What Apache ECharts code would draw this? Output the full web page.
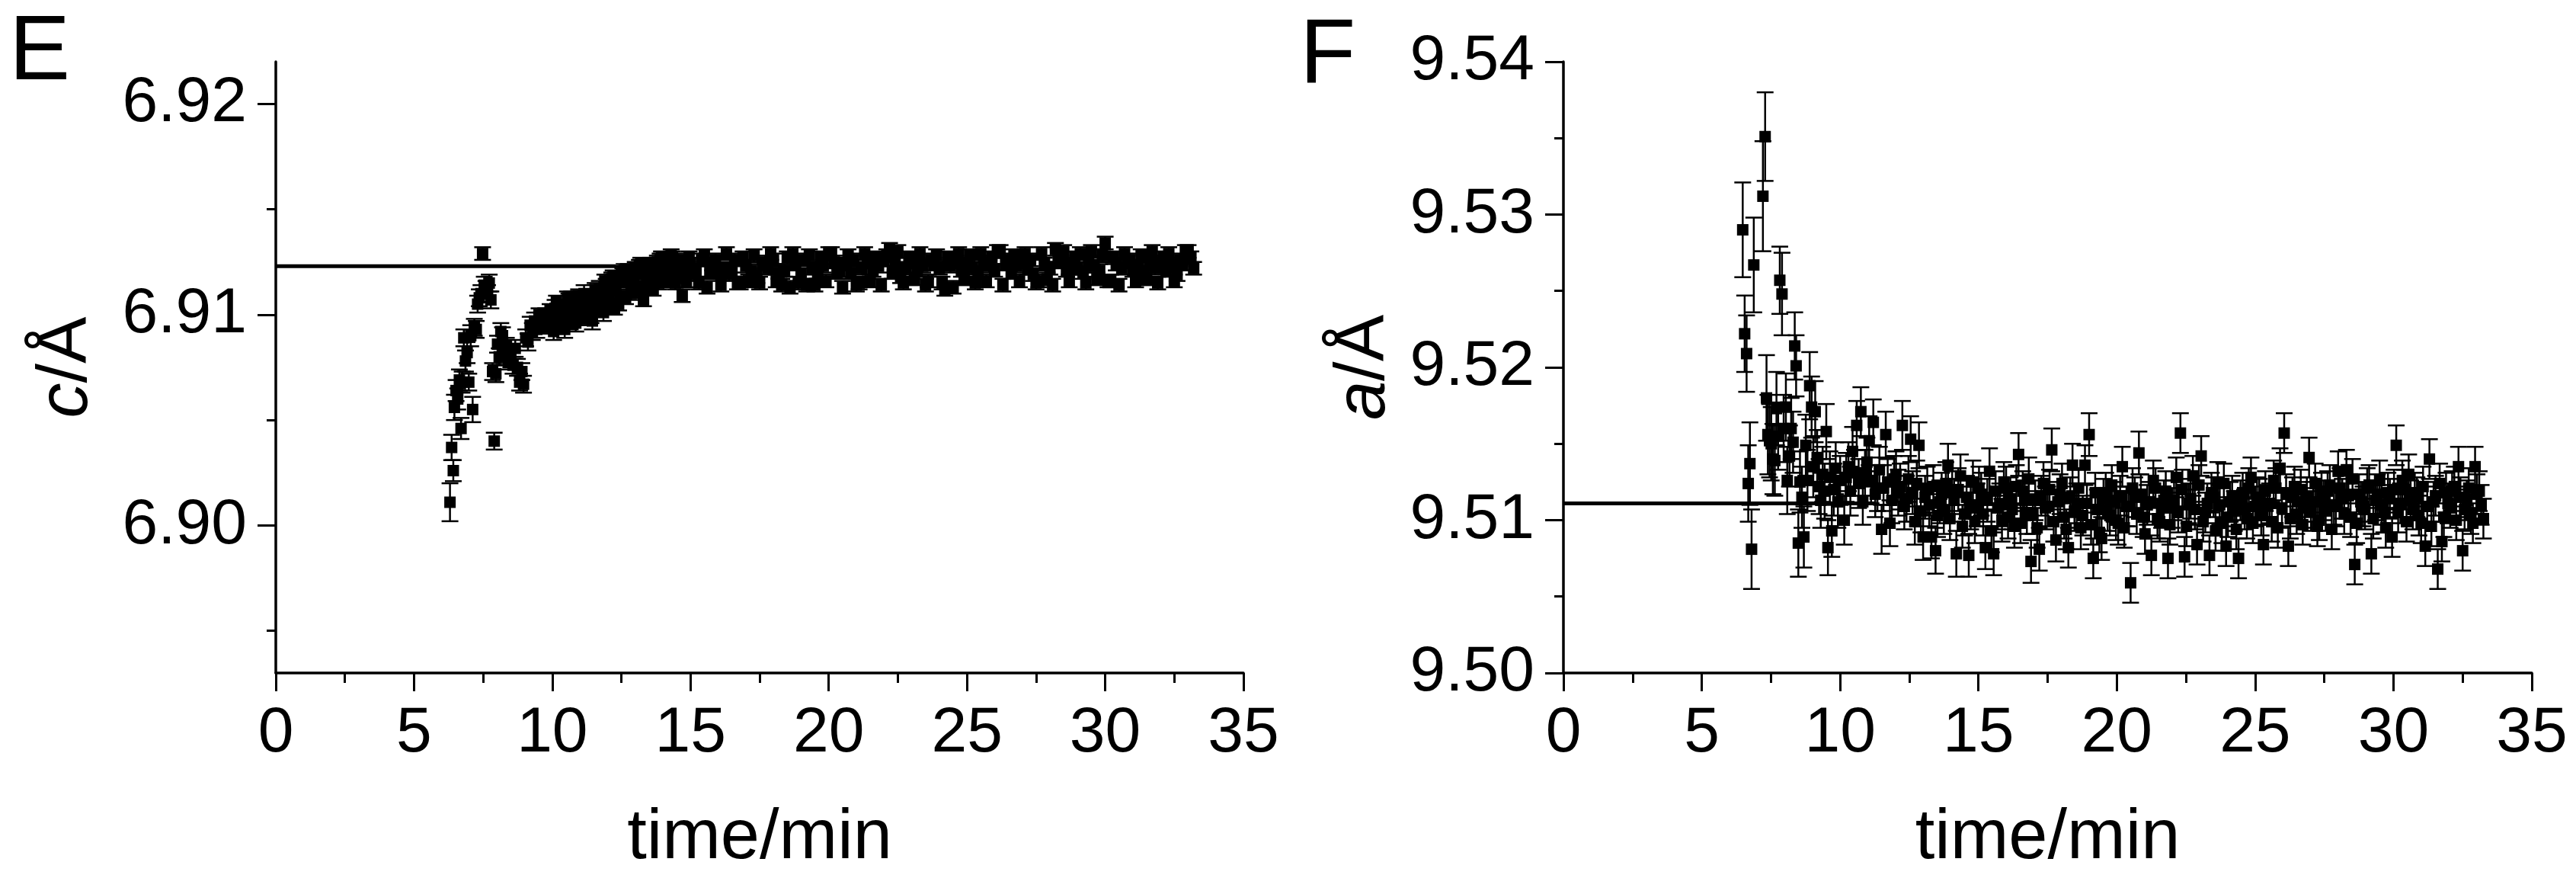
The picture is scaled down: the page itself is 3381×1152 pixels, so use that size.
<!DOCTYPE html>
<html>
<head>
<meta charset="utf-8">
<script src="https://cdn.jsdelivr.net/npm/echarts@6/dist/echarts.min.js"></script>
<style>
  html, body { margin: 0; padding: 0; background: #fff; }
  #main { width: 3381px; height: 1152px; }
</style>
</head>
<body>
<div id="main"></div>
<script>
// panel E : lattice parameter c vs time
const timeE = [6.30,6.36,6.42,6.46,6.52,6.58,6.64,6.70,6.74,6.80,
  6.86,6.92,6.98,7.05,7.12,7.18,7.25,7.30,7.36,7.42,
  7.48,7.54,7.60,7.66,7.72,7.78,7.84,7.90,7.96,8.02,
  8.08,8.14,8.20,8.26,8.34,8.42,8.50,8.58,8.66,8.74,
  8.82,8.90,8.96,9.04,9.12,9.20,9.28,9.36,9.44,9.52,
  9.60,9.68,9.76,9.84,9.92,10.00,
  10.1,10.2,10.3,10.4,10.5,10.6,10.7,10.8,10.9,11.0,
  11.1,11.2,11.3,11.4,11.5,11.6,11.7,11.8,11.9,12.0,
  12.1,12.2,12.3,12.4,12.5,12.6,12.7,12.8,12.9,13.0,
  13.1,13.2,13.3,13.4,13.5,13.6,13.7,13.8,13.9,14.0,
  14.1,14.2,14.3,14.4,14.5,14.6,14.7,14.8,14.9,15.0,
  15.2,15.4,15.6,15.8,16.0,16.2,16.4,16.6,16.8,17.0,
  17.2,17.4,17.6,17.8,18.0,18.2,18.4,18.6,18.8,19.0,
  19.2,19.4,19.6,19.8,20.0,20.2,20.4,20.6,20.8,21.0,
  21.2,21.4,21.6,21.8,22.0,22.2,22.4,22.6,22.8,23.0,
  23.2,23.4,23.6,23.8,24.0,24.2,24.4,24.6,24.8,25.0,
  25.2,25.4,25.6,25.8,26.0,26.2,26.4,26.6,26.8,27.0,
  27.2,27.4,27.6,27.8,28.0,28.2,28.4,28.6,28.8,29.0,
  29.2,29.4,29.6,29.8,30.0,30.2,30.4,30.6,30.8,31.0,
  31.2,31.4,31.6,31.8,32.0,32.2,32.4,32.6,32.8,33.0,
  33.2,
  10.05,10.15,10.25,10.35,10.45,10.55,10.65,10.75,10.85,10.95,
  11.05,11.15,11.25,11.35,11.45,11.55,11.65,11.75,11.85,11.95,
  12.05,12.15,12.25,12.35,12.45,12.55,12.65,12.75,12.85,12.95,
  13.05,13.15,13.25,13.35,13.45,13.55,13.65,13.75,13.85,13.95,
  14.05,14.15,14.25,14.35,14.45,14.55,14.65,14.75,14.85,14.95,
  15.3,15.5,15.7,15.9,16.1,16.3,16.5,16.7,16.9,17.1,
  17.3,17.5,17.7,17.9,18.1,18.3,18.5,18.7,18.9,19.1,
  19.3,19.5,19.7,19.9,20.1,20.3,20.5,20.7,20.9,21.1,
  21.3,21.5,21.7,21.9,22.1,22.3,22.5,22.7,22.9,23.1,
  23.3,23.5,23.7,23.9,24.1,24.3,24.5,24.7,24.9,25.1,
  25.3,25.5,25.7,25.9,26.1,26.3,26.5,26.7,26.9,27.1,
  27.3,27.5,27.7,27.9,28.1,28.3,28.5,28.7,28.9,29.1,
  29.3,29.5,29.7,29.9,30.1,30.3,30.5,30.7,30.9,31.1,
  31.3,31.5,31.7,31.9,32.1,32.3,32.5,32.7,32.9,33.1];
const cE = [6.9011,6.9037,6.9026,6.9056,6.9064,6.9060,6.9069,6.9046,6.9068,6.9089,
  6.9078,6.9082,6.9068,6.9090,6.9055,6.9094,6.9093,6.9105,6.9108,6.9110,
  6.9129,6.9114,6.9112,6.9110,6.9115,6.9107,6.9073,6.9040,6.9072,6.9086,
  6.9080,6.9092,6.9090,6.9081,6.9085,6.9078,6.9079,6.9076,6.9084,6.9075,
  6.9068,6.9073,6.9067,6.9089,6.9087,6.9095,6.9092,6.9097,6.9093,6.9100,
  6.9098,6.9094,6.9100,6.9097,6.9102,6.9099,
  6.9103,6.9101,6.9098,6.9104,6.9102,6.9106,6.9108,6.9101,6.9104,6.9105,
  6.9107,6.9103,6.9100,6.9099,6.9104,6.9109,6.9112,6.9108,6.9116,6.9111,
  6.9114,6.9118,6.9112,6.9105,6.9120,6.9121,6.9116,6.9119,6.9117,6.9122,
  6.9120,6.9124,6.9107,6.9119,6.9122,6.9120,6.9118,6.9125,6.9126,6.9121,
  6.9123,6.9126,6.9128,6.9124,6.9120,6.9125,6.9109,6.9122,6.9119,6.9124,
  6.9121,6.9126,6.9113,6.9124,6.9120,6.9122,6.9119,6.9126,6.9115,6.9123,
  6.9121,6.9118,6.9124,6.9122,6.9126,6.9120,6.9121,6.9113,6.9124,6.9119,
  6.9114,6.9122,6.9120,6.9123,6.9129,6.9125,6.9121,6.9124,6.9120,6.9114,
  6.9122,6.9125,6.9121,6.9123,6.9126,6.9131,6.9124,6.9118,6.9122,6.9125,
  6.9121,6.9123,6.9116,6.9124,6.9122,6.9112,6.9123,6.9125,6.9121,6.9124,
  6.9122,6.9120,6.9125,6.9123,6.9121,6.9130,6.9124,6.9120,6.9123,6.9125,
  6.9122,6.9119,6.9116,6.9124,6.9122,6.9131,6.9125,6.9121,6.9124,6.9122,
  6.9120,6.9125,6.9123,6.9121,6.9134,6.9116,6.9124,6.9122,6.9125,6.9121,
  6.9123,6.9120,6.9124,6.9122,6.9125,6.9121,6.9123,6.9119,6.9124,6.9130,
  6.9122,
  6.9092,6.9106,6.9095,6.9104,6.9093,6.9108,6.9097,6.9103,6.9096,6.9109,
  6.9098,6.9110,6.9101,6.9107,6.9097,6.9112,6.9103,6.9106,6.9101,6.9114,
  6.9106,6.9117,6.9103,6.9116,6.9109,6.9119,6.9108,6.9121,6.9110,6.9115,
  6.9111,6.9123,6.9113,6.9121,6.9114,6.9124,6.9112,6.9122,6.9115,6.9127,
  6.9116,6.9124,6.9118,6.9127,6.9115,6.9126,6.9118,6.9123,6.9116,6.9127,
  6.9115,6.9128,6.9120,6.9126,6.9114,6.9129,6.9121,6.9115,6.9127,6.9116,
  6.9128,6.9115,6.9125,6.9129,6.9116,6.9114,6.9127,6.9129,6.9115,6.9126,
  6.9128,6.9114,6.9127,6.9116,6.9129,6.9120,6.9113,6.9128,6.9126,6.9115,
  6.9129,6.9116,6.9127,6.9114,6.9128,6.9120,6.9130,6.9115,6.9127,6.9117,
  6.9129,6.9114,6.9126,6.9128,6.9115,6.9127,6.9113,6.9129,6.9117,6.9128,
  6.9115,6.9129,6.9116,6.9127,6.9130,6.9114,6.9126,6.9128,6.9116,6.9129,
  6.9126,6.9115,6.9129,6.9117,6.9114,6.9128,6.9130,6.9116,6.9127,6.9129,
  6.9115,6.9130,6.9117,6.9128,6.9116,6.9127,6.9114,6.9129,6.9126,6.9116,
  6.9128,6.9117,6.9130,6.9115,6.9127,6.9129,6.9116,6.9126,6.9130,6.9127];
const errE = [0.0009,0.0006,0.0005,0.0006,0.0005,0.0005,0.0005,0.0005,0.0005,0.0004,
  0.0005,0.0005,0.0004,0.0005,0.0006,0.0004,0.0004,0.0004,0.0004,0.0004,
  0.0003,0.0004,0.0004,0.0004,0.0004,0.0004,0.0004,0.0004,0.0004,0.0004,
  0.0004,0.0004,0.0004,0.0004,0.0004,0.0004,0.0004,0.0004,0.0004,0.0004,
  0.0004,0.0004,0.0004,0.0004,0.0004,0.0004,0.0004,0.0004,0.0004,0.0003,
  0.0003,0.0003,0.0003,0.0003,0.0003,0.0003,
  0.0004,0.0003,0.0004,0.0003,0.0003,0.0004,0.0003,0.0003,0.0004,0.0003,
  0.0003,0.0003,0.0004,0.0003,0.0003,0.0003,0.0004,0.0003,0.0003,0.0003,
  0.0003,0.0003,0.0003,0.0003,0.0003,0.0003,0.0003,0.0003,0.0003,0.0003,
  0.0003,0.0003,0.0003,0.0003,0.0003,0.0003,0.0003,0.0003,0.0003,0.0003,
  0.0003,0.0003,0.0003,0.0003,0.0003,0.0003,0.0003,0.0003,0.0003,0.0003,
  0.0003,0.0003,0.0003,0.0003,0.0003,0.0003,0.0003,0.0003,0.0003,0.0003,
  0.0003,0.0003,0.0003,0.0003,0.0003,0.0003,0.0003,0.0003,0.0003,0.0003,
  0.0003,0.0003,0.0003,0.0003,0.0003,0.0003,0.0003,0.0003,0.0003,0.0003,
  0.0003,0.0003,0.0003,0.0003,0.0003,0.0003,0.0003,0.0003,0.0003,0.0003,
  0.0003,0.0003,0.0003,0.0003,0.0003,0.0003,0.0003,0.0003,0.0003,0.0003,
  0.0003,0.0003,0.0003,0.0003,0.0003,0.0003,0.0003,0.0003,0.0003,0.0003,
  0.0003,0.0003,0.0003,0.0003,0.0003,0.0003,0.0003,0.0003,0.0003,0.0003,
  0.0003,0.0003,0.0003,0.0003,0.0003,0.0003,0.0003,0.0003,0.0003,0.0003,
  0.0003,0.0003,0.0003,0.0003,0.0003,0.0003,0.0003,0.0003,0.0003,0.0003,
  0.0003,
  0.0004,0.0003,0.0004,0.0003,0.0004,0.0003,0.0004,0.0003,0.0004,0.0003,
  0.0003,0.0004,0.0003,0.0003,0.0004,0.0003,0.0003,0.0003,0.0004,0.0003,
  0.0003,0.0003,0.0003,0.0003,0.0003,0.0003,0.0003,0.0003,0.0003,0.0003,
  0.0003,0.0003,0.0003,0.0003,0.0003,0.0003,0.0003,0.0003,0.0003,0.0003,
  0.0003,0.0003,0.0003,0.0003,0.0003,0.0003,0.0003,0.0003,0.0003,0.0003,
  0.0003,0.0003,0.0003,0.0003,0.0003,0.0003,0.0003,0.0003,0.0003,0.0003,
  0.0003,0.0003,0.0003,0.0003,0.0003,0.0003,0.0003,0.0003,0.0003,0.0003,
  0.0003,0.0003,0.0003,0.0003,0.0003,0.0003,0.0003,0.0003,0.0003,0.0003,
  0.0003,0.0003,0.0003,0.0003,0.0003,0.0003,0.0003,0.0003,0.0003,0.0003,
  0.0003,0.0003,0.0003,0.0003,0.0003,0.0003,0.0003,0.0003,0.0003,0.0003,
  0.0003,0.0003,0.0003,0.0003,0.0003,0.0003,0.0003,0.0003,0.0003,0.0003,
  0.0003,0.0003,0.0003,0.0003,0.0003,0.0003,0.0003,0.0003,0.0003,0.0003,
  0.0003,0.0003,0.0003,0.0003,0.0003,0.0003,0.0003,0.0003,0.0003,0.0003,
  0.0003,0.0003,0.0003,0.0003,0.0003,0.0003,0.0003,0.0003,0.0003,0.0003];
const refE = 6.9123;      // horizontal reference level
const refEndE = 12.3;     // where the visible line stops

// panel F : lattice parameter a vs time
const timeF = [6.48,6.55,6.62,6.68,6.74,6.80,6.88,7.21,7.29,7.34,
  7.39,7.45,7.51,7.57,7.64,7.70,7.76,7.82,7.90,7.96,
  8.04,8.09,8.17,8.23,8.30,8.36,8.41,8.49,8.55,8.62,
  8.69,8.76,8.82,8.90,8.97,9.03,9.10,9.17,9.24,9.30,
  9.37,9.44,9.50,9.56,9.63,9.70,9.77,9.84,9.92,10.00,
  10.15,10.30,10.45,10.60,10.75,10.90,11.05,11.20,11.35,11.50,
  11.65,11.80,11.95,12.10,12.25,12.40,12.55,12.70,12.85,13.00,
  13.15,13.30,13.45,13.60,13.75,13.90,14.05,14.20,14.35,14.50,
  14.65,14.80,14.95,15.10,15.25,15.40,15.55,15.70,15.85,16.00,
  16.15,16.30,16.45,16.60,16.75,16.90,17.05,17.20,17.35,17.50,
  17.65,17.80,17.95,18.10,18.25,18.40,18.55,18.70,18.85,19.00,
  19.15,19.30,19.45,19.60,19.75,19.90,20.05,20.20,20.35,20.50,
  20.65,20.80,20.95,21.10,21.25,21.40,21.55,21.70,21.85,22.00,
  22.15,22.30,22.45,22.60,22.75,22.90,23.05,23.20,23.35,23.50,
  23.65,23.80,23.95,24.10,24.25,24.40,24.55,24.70,24.85,25.00,
  25.15,25.30,25.45,25.60,25.75,25.90,26.05,26.20,26.35,26.50,
  26.65,26.80,26.95,27.10,27.25,27.40,27.55,27.70,27.85,28.00,
  28.15,28.30,28.45,28.60,28.75,28.90,29.05,29.20,29.35,29.50,
  29.65,29.80,29.95,30.10,30.25,30.40,30.55,30.70,30.85,31.00,
  31.15,31.30,31.45,31.60,31.75,31.90,32.05,32.20,32.35,32.50,
  32.65,32.80,32.95,33.10,33.25,
  10.22,10.37,10.52,10.67,10.82,10.97,11.12,11.27,11.42,11.57,
  11.72,11.87,12.02,12.17,12.32,12.47,12.62,12.77,12.92,13.07,
  13.22,13.37,13.52,13.67,13.82,13.97,14.12,14.27,14.42,14.57,
  14.72,14.87,15.02,15.17,15.32,15.47,15.62,15.77,15.92,16.07,
  16.22,16.37,16.52,16.67,16.82,16.97,17.12,17.27,17.42,17.57,
  17.72,17.87,18.02,18.17,18.32,18.47,18.62,18.77,18.92,19.07,
  19.22,19.37,19.52,19.67,19.82,19.97,20.12,20.27,20.42,20.57,
  20.72,20.87,21.02,21.17,21.32,21.47,21.62,21.77,21.92,22.07,
  22.22,22.37,22.52,22.67,22.82,22.97,23.12,23.27,23.42,23.57,
  23.72,23.87,24.02,24.17,24.32,24.47,24.62,24.77,24.92,25.07,
  25.22,25.37,25.52,25.67,25.82,25.97,26.12,26.27,26.42,26.57,
  26.72,26.87,27.02,27.17,27.32,27.47,27.62,27.77,27.92,28.07,
  28.22,28.37,28.52,28.67,28.82,28.97,29.12,29.27,29.42,29.57,
  29.72,29.87,30.02,30.17,30.32,30.47,30.62,30.77,30.92,31.07,
  31.22,31.37,31.52,31.67,31.82,31.97,32.12,32.27,32.42,32.57,
  32.72,32.87,33.02,33.17];
const aF = [9.5290,9.5222,9.5209,9.5124,9.5137,9.5081,9.5267,9.5312,9.5351,9.5180,
  9.5156,9.5152,9.5150,9.5140,9.5139,9.5173,9.5155,9.5257,9.5248,9.5160,
  9.5174,9.5126,9.5142,9.5160,9.5151,9.5214,9.5201,9.5085,9.5125,9.5115,
  9.5089,9.5149,9.5126,9.5188,9.5174,9.5135,9.5171,9.5141,9.5122,9.5113,
  9.5130,9.5119,9.5158,9.5082,9.5128,9.5093,9.5120,9.5134,9.5112,9.5126,
  9.5100,9.5135,9.5145,9.5162,9.5171,9.5131,9.5152,9.5164,9.5121,9.5094,
  9.5156,9.5098,9.5127,9.5118,9.5162,9.5114,9.5153,9.5099,9.5149,9.5089,
  9.5120,9.5089,9.5080,9.5112,9.5106,9.5136,9.5118,9.5078,9.5129,9.5104,
  9.5077,9.5125,9.5110,9.5117,9.5082,9.5132,9.5078,9.5108,9.5100,9.5121,
  9.5114,9.5096,9.5143,9.5119,9.5105,9.5073,9.5113,9.5081,9.5124,9.5109,
  9.5146,9.5087,9.5117,9.5102,9.5082,9.5136,9.5111,9.5095,9.5136,9.5156,
  9.5075,9.5107,9.5088,9.5118,9.5103,9.5112,9.5098,9.5135,9.5109,9.5059,
  9.5115,9.5144,9.5102,9.5110,9.5077,9.5121,9.5099,9.5113,9.5075,9.5108,
  9.5128,9.5157,9.5076,9.5111,9.5129,9.5084,9.5142,9.5105,9.5077,9.5115,
  9.5125,9.5098,9.5083,9.5112,9.5106,9.5075,9.5118,9.5101,9.5128,9.5109,
  9.5114,9.5084,9.5110,9.5099,9.5121,9.5134,9.5157,9.5083,9.5115,9.5104,
  9.5120,9.5108,9.5141,9.5112,9.5096,9.5118,9.5106,9.5123,9.5110,9.5132,
  9.5114,9.5133,9.5102,9.5071,9.5117,9.5109,9.5121,9.5078,9.5113,9.5126,
  9.5105,9.5118,9.5089,9.5149,9.5111,9.5120,9.5130,9.5107,9.5115,9.5098,
  9.5083,9.5140,9.5112,9.5068,9.5086,9.5118,9.5108,9.5122,9.5135,9.5080,
  9.5113,9.5104,9.5135,9.5119,9.5101,
  9.5128,9.5119,9.5131,9.5124,9.5112,9.5138,9.5126,9.5117,9.5133,9.5121,
  9.5125,9.5113,9.5130,9.5122,9.5109,9.5127,9.5118,9.5124,9.5106,9.5115,
  9.5110,9.5122,9.5103,9.5117,9.5124,9.5101,9.5113,9.5120,9.5096,9.5115,
  9.5108,9.5099,9.5121,9.5104,9.5113,9.5093,9.5119,9.5110,9.5125,9.5102,
  9.5107,9.5122,9.5098,9.5113,9.5127,9.5104,9.5095,9.5116,9.5108,9.5120,
  9.5099,9.5112,9.5124,9.5094,9.5115,9.5106,9.5121,9.5103,9.5111,9.5097,
  9.5118,9.5092,9.5114,9.5106,9.5123,9.5100,9.5116,9.5095,9.5109,9.5121,
  9.5104,9.5117,9.5091,9.5112,9.5126,9.5101,9.5108,9.5119,9.5097,9.5113,
  9.5105,9.5120,9.5096,9.5114,9.5107,9.5123,9.5099,9.5111,9.5118,9.5093,
  9.5110,9.5124,9.5102,9.5116,9.5094,9.5113,9.5107,9.5121,9.5098,9.5115,
  9.5103,9.5119,9.5111,9.5126,9.5095,9.5108,9.5117,9.5101,9.5122,9.5112,
  9.5097,9.5115,9.5106,9.5124,9.5100,9.5113,9.5119,9.5094,9.5109,9.5121,
  9.5104,9.5116,9.5127,9.5098,9.5112,9.5107,9.5123,9.5101,9.5117,9.5110,
  9.5095,9.5114,9.5120,9.5105,9.5126,9.5099,9.5113,9.5118,9.5103,9.5122,
  9.5109,9.5096,9.5116,9.5124,9.5102,9.5111,9.5119,9.5100,9.5115,9.5107,
  9.5121,9.5098,9.5117,9.5110];
const errF = [0.0031,0.0025,0.0025,0.0025,0.0027,0.0026,0.0031,0.0036,0.0029,0.0028,
  0.0026,0.0024,0.0024,0.0023,0.0023,0.0024,0.0022,0.0022,0.0027,0.0022,
  0.0022,0.0022,0.0020,0.0020,0.0020,0.0022,0.0020,0.0022,0.0020,0.0020,
  0.0020,0.0020,0.0020,0.0022,0.0020,0.0020,0.0020,0.0018,0.0018,0.0018,
  0.0018,0.0018,0.0018,0.0018,0.0017,0.0017,0.0017,0.0017,0.0017,0.0016,
  0.0016,0.0016,0.0016,0.0016,0.0016,0.0015,0.0016,0.0015,0.0015,0.0016,
  0.0015,0.0015,0.0015,0.0015,0.0016,0.0015,0.0015,0.0015,0.0015,0.0015,
  0.0015,0.0014,0.0015,0.0014,0.0015,0.0014,0.0014,0.0015,0.0014,0.0014,
  0.0014,0.0014,0.0014,0.0014,0.0014,0.0015,0.0014,0.0014,0.0014,0.0014,
  0.0014,0.0014,0.0014,0.0013,0.0014,0.0014,0.0013,0.0014,0.0014,0.0013,
  0.0014,0.0014,0.0013,0.0014,0.0013,0.0014,0.0013,0.0014,0.0013,0.0014,
  0.0013,0.0013,0.0014,0.0013,0.0013,0.0013,0.0014,0.0013,0.0013,0.0013,
  0.0013,0.0014,0.0013,0.0013,0.0013,0.0013,0.0013,0.0013,0.0013,0.0013,
  0.0013,0.0013,0.0013,0.0013,0.0013,0.0013,0.0013,0.0013,0.0013,0.0013,
  0.0013,0.0013,0.0013,0.0013,0.0013,0.0013,0.0013,0.0013,0.0013,0.0013,
  0.0013,0.0013,0.0013,0.0013,0.0013,0.0013,0.0013,0.0013,0.0013,0.0013,
  0.0013,0.0013,0.0013,0.0013,0.0013,0.0013,0.0013,0.0013,0.0013,0.0013,
  0.0013,0.0013,0.0013,0.0013,0.0013,0.0013,0.0013,0.0013,0.0013,0.0013,
  0.0013,0.0013,0.0013,0.0013,0.0013,0.0013,0.0013,0.0013,0.0013,0.0013,
  0.0013,0.0013,0.0013,0.0013,0.0013,0.0013,0.0013,0.0013,0.0013,0.0013,
  0.0013,0.0013,0.0013,0.0013,0.0013,
  0.0016,0.0016,0.0015,0.0016,0.0015,0.0016,0.0015,0.0015,0.0015,0.0015,
  0.0015,0.0015,0.0015,0.0015,0.0015,0.0015,0.0014,0.0015,0.0014,0.0014,
  0.0014,0.0014,0.0014,0.0014,0.0014,0.0014,0.0014,0.0014,0.0014,0.0014,
  0.0014,0.0014,0.0014,0.0014,0.0014,0.0014,0.0013,0.0014,0.0013,0.0014,
  0.0013,0.0014,0.0013,0.0013,0.0014,0.0013,0.0013,0.0013,0.0014,0.0013,
  0.0013,0.0013,0.0013,0.0013,0.0013,0.0013,0.0013,0.0013,0.0013,0.0013,
  0.0013,0.0013,0.0013,0.0013,0.0013,0.0013,0.0013,0.0013,0.0013,0.0013,
  0.0013,0.0013,0.0013,0.0013,0.0013,0.0013,0.0013,0.0013,0.0013,0.0013,
  0.0013,0.0013,0.0013,0.0013,0.0013,0.0013,0.0013,0.0013,0.0013,0.0013,
  0.0013,0.0013,0.0013,0.0013,0.0013,0.0013,0.0013,0.0013,0.0013,0.0013,
  0.0013,0.0013,0.0013,0.0013,0.0013,0.0013,0.0013,0.0013,0.0013,0.0013,
  0.0013,0.0013,0.0013,0.0013,0.0013,0.0013,0.0013,0.0013,0.0013,0.0013,
  0.0013,0.0013,0.0013,0.0013,0.0013,0.0013,0.0013,0.0013,0.0013,0.0013,
  0.0013,0.0013,0.0013,0.0013,0.0013,0.0013,0.0013,0.0013,0.0013,0.0013,
  0.0013,0.0013,0.0013,0.0013,0.0013,0.0013,0.0013,0.0013,0.0013,0.0013,
  0.0013,0.0013,0.0013,0.0013];
const refF = 9.5111;
const refEndF = 11.3;

// axis ticks
const xTicks = { min: 0, max: 35, interval: 5 };
const yMajorE = [6.90, 6.91, 6.92];
const yMinorE = [6.895, 6.905, 6.915];
const yMajorF = [9.50, 9.51, 9.52, 9.53, 9.54];
const yMinorF = [9.505, 9.515, 9.525, 9.535];

const FONT = '"Liberation Sans", Arial, sans-serif';
const black = '#000';

function makeX(gi) {
  return {
    gridIndex: gi, type: 'value', min: xTicks.min, max: xTicks.max, interval: xTicks.interval,
    axisLine: { lineStyle: { color: black, width: 3.5 } },
    axisTick: { length: 24, lineStyle: { color: black, width: 3 } },
    minorTick: { show: true, splitNumber: 2, length: 13, lineStyle: { color: black, width: 3 } },
    axisLabel: { fontSize: 84, color: black, fontFamily: FONT, margin: 38 },
    splitLine: { show: false },
    name: 'time/min', nameLocation: 'middle', nameGap: 172,
    nameTextStyle: { fontSize: 92, color: black, fontFamily: FONT }
  };
}

function makeY(gi, min, max, major, minor, letter, gap) {
  return [{
    gridIndex: gi, type: 'value', position: 'left', min: min, max: max,
    axisLine: { show: true, lineStyle: { color: black, width: 3.5 } },
    axisTick: { show: true, customValues: major, length: 24, lineStyle: { color: black, width: 3 } },
    axisLabel: { customValues: major, formatter: v => v.toFixed(2), fontSize: 84, color: black, fontFamily: FONT, margin: 38 },
    splitLine: { show: false },
    name: '{i|' + letter + '}/Å', nameLocation: 'middle', nameGap: gap,
    nameTextStyle: {
      fontSize: 92, color: black, fontFamily: FONT,
      rich: { i: { fontSize: 92, fontStyle: 'italic', fontFamily: FONT, color: black } }
    }
  }, {
    gridIndex: gi, type: 'value', position: 'left', min: min, max: max,
    axisLine: { show: false },
    axisTick: { show: true, customValues: minor, length: 12, lineStyle: { color: black, width: 3 } },
    axisLabel: { show: false },
    splitLine: { show: false }
  }];
}

function errorBars(xi, yi, t, v, e) {
  return {
    type: 'custom', xAxisIndex: xi, yAxisIndex: yi, silent: true, z: 2,
    data: t.map((x, i) => [x, v[i], e[i]]),
    encode: { x: 0, y: 1 },
    renderItem: function (params, api) {
      const x = api.value(0), y = api.value(1), d = api.value(2);
      const hi = api.coord([x, y + d]);
      const lo = api.coord([x, y - d]);
      const w = 11;
      const st = { stroke: black, lineWidth: 2.5 };
      return {
        type: 'group',
        children: [
          { type: 'line', shape: { x1: hi[0], y1: hi[1], x2: lo[0], y2: lo[1] }, style: st },
          { type: 'line', shape: { x1: hi[0] - w, y1: hi[1], x2: hi[0] + w, y2: hi[1] }, style: st },
          { type: 'line', shape: { x1: lo[0] - w, y1: lo[1], x2: lo[0] + w, y2: lo[1] }, style: st }
        ]
      };
    }
  };
}

function points(xi, yi, t, v) {
  return {
    type: 'scatter', xAxisIndex: xi, yAxisIndex: yi, z: 3,
    symbol: 'rect', symbolSize: 15,
    itemStyle: { color: black, opacity: 1 },
    data: t.map((x, i) => [x, v[i]])
  };
}

function refLine(xi, yi, level, end) {
  return {
    type: 'line', xAxisIndex: xi, yAxisIndex: yi, z: 1,
    symbol: 'none', lineStyle: { color: black, width: 5 },
    data: [[0, level], [end, level]]
  };
}

const chart = echarts.init(document.getElementById('main'));
chart.setOption({
  animation: false,
  backgroundColor: '#fff',
  grid: [
    { left: 362, top: 81, width: 1270, height: 808 },
    { left: 2052, top: 81, width: 1271, height: 808 }
  ],
  xAxis: [makeX(0), makeX(1)],
  yAxis: makeY(0, 6.893, 6.922, yMajorE, yMinorE, 'c', 228)
    .concat(makeY(1, 9.50, 9.54, yMajorF, yMinorF, 'a', 215)),
  graphic: [
    { type: 'text', left: 12, top: 11, style: { text: 'E', fontSize: 120, fill: black, fontFamily: FONT } },
    { type: 'text', left: 1706, top: 16, style: { text: 'F', fontSize: 120, fill: black, fontFamily: FONT } }
  ],
  series: [
    refLine(0, 0, refE, refEndE),
    errorBars(0, 0, timeE, cE, errE),
    points(0, 0, timeE, cE),
    refLine(1, 2, refF, refEndF),
    errorBars(1, 2, timeF, aF, errF),
    points(1, 2, timeF, aF)
  ]
});
</script>
</body>
</html>
